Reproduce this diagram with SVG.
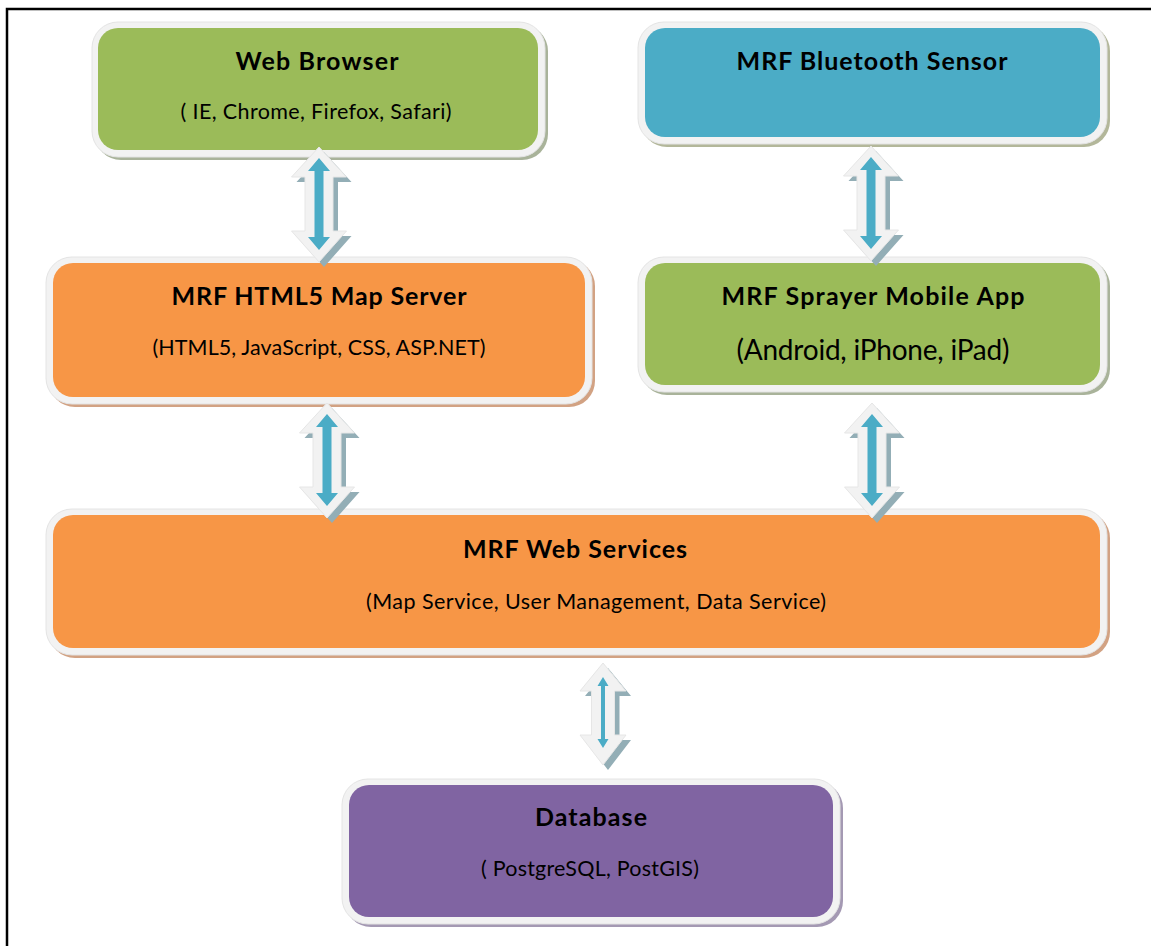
<svg xmlns="http://www.w3.org/2000/svg" width="1151" height="946" viewBox="0 0 1151 946">
<style>
.frame{fill:#fff;stroke:#000;stroke-width:2.5}
.bord{fill:#f2f2f2;stroke:#e4e4e4;stroke-width:1}
.t{font-family:Lato,"Liberation Sans",sans-serif;font-weight:bold;font-size:25px;fill:#000;text-anchor:middle}
.s{font-family:Lato,"Liberation Sans",sans-serif;font-size:21.5px;fill:#000;text-anchor:middle}
.ash{fill:#93aeb6}
.aw{fill:#f2f2f2;stroke:#e6e6e6;stroke-width:1}
.ab{fill:#4bacc6}
</style>
<defs>
<path id="bigW" d="M0,0 L27.5,30 L14,30 L14,84 L27.5,84 L0,115 L-27.5,84 L-14,84 L-14,30 L-27.5,30 Z"/>
<path id="bigB" d="M0,11 L11,24 L4.5,24 L4.5,90 L11,90 L0,103 L-11,90 L-4.5,90 L-4.5,24 L-11,24 Z"/>
<path id="smW" d="M0,0 L23,28 L11.5,28 L11.5,72 L23,72 L0,102 L-23,72 L-11.5,72 L-11.5,28 L-23,28 Z"/>
<path id="smB" d="M0,14 L5.5,23 L2,23 L2,76 L5.5,76 L0,85 L-5.5,76 L-2,76 L-2,23 L-5.5,23 Z"/>
</defs>
<rect x="7" y="9" width="1200" height="1000" class="frame"/>

<g id="web-browser">
<rect x="95" y="25" width="453" height="135" rx="26" fill="#a9b39a"/>
<rect x="92" y="22" width="453" height="135" rx="26" class="bord"/>
<rect x="98" y="28" width="440" height="122" rx="20" fill="#9bbb59"/>
<text x="317" y="70" class="t" textLength="163">Web Browser</text>
<text x="316" y="119" class="s" textLength="271">( IE, Chrome, Firefox, Safari)</text>
</g>

<g id="bluetooth-sensor">
<rect x="641" y="25" width="469" height="122" rx="26" fill="#b3b79a"/>
<rect x="638" y="22" width="469" height="122" rx="26" class="bord"/>
<rect x="645" y="28" width="455" height="109" rx="20" fill="#4bacc6"/>
<text x="872" y="70" class="t" textLength="271">MRF Bluetooth Sensor</text>
</g>

<g id="map-server">
<rect x="49" y="260" width="546" height="147" rx="26" fill="#d2a283"/>
<rect x="46" y="257" width="546" height="147" rx="26" class="bord"/>
<rect x="53" y="263" width="532" height="134" rx="20" fill="#f79646"/>
<text x="319" y="305" class="t" textLength="295">MRF HTML5 Map Server</text>
<text x="319" y="355" class="s" textLength="333">(HTML5, JavaScript, CSS, ASP.NET)</text>
</g>

<g id="mobile-app">
<rect x="641" y="260" width="469" height="135" rx="26" fill="#a9b39a"/>
<rect x="638" y="257" width="469" height="135" rx="26" class="bord"/>
<rect x="645" y="263" width="455" height="122" rx="20" fill="#9bbb59"/>
<text x="873" y="305" class="t" textLength="303">MRF Sprayer Mobile App</text>
<text x="873" y="360" class="s" style="font-size:28px" textLength="273">(Android, iPhone, iPad)</text>
</g>

<g id="web-services">
<rect x="49" y="512" width="1061" height="146" rx="26" fill="#d2a283"/>
<rect x="46" y="509" width="1061" height="146" rx="26" class="bord"/>
<rect x="53" y="515" width="1047" height="133" rx="20" fill="#f79646"/>
<text x="575" y="558" class="t" textLength="224">MRF Web Services</text>
<text x="596" y="609" class="s" textLength="460">(Map Service, User Management, Data Service)</text>
</g>

<g id="database">
<rect x="345" y="782" width="498" height="145" rx="26" fill="#a499b3"/>
<rect x="342" y="779" width="498" height="145" rx="26" class="bord"/>
<rect x="349" y="785" width="484" height="132" rx="20" fill="#8064a2"/>
<text x="591" y="826" class="t" textLength="112">Database</text>
<text x="590" y="876" class="s" textLength="218">( PostgreSQL, PostGIS)</text>
</g>

<g id="connectors">
<g transform="translate(319,147)"><use href="#bigW" class="ash" x="5" y="5"/><use href="#bigW" class="aw"/><use href="#bigB" class="ab"/></g>
<g transform="translate(871,146)"><use href="#bigW" class="ash" x="5" y="5"/><use href="#bigW" class="aw"/><use href="#bigB" class="ab"/></g>
<g transform="translate(327,403)"><use href="#bigW" class="ash" x="5" y="5"/><use href="#bigW" class="aw"/><use href="#bigB" class="ab"/></g>
<g transform="translate(872,403)"><use href="#bigW" class="ash" x="5" y="5"/><use href="#bigW" class="aw"/><use href="#bigB" class="ab"/></g>
<g transform="translate(603,663)"><use href="#smW" class="ash" x="5" y="5"/><use href="#smW" class="aw"/><use href="#smB" class="ab"/></g>
</g>
</svg>
